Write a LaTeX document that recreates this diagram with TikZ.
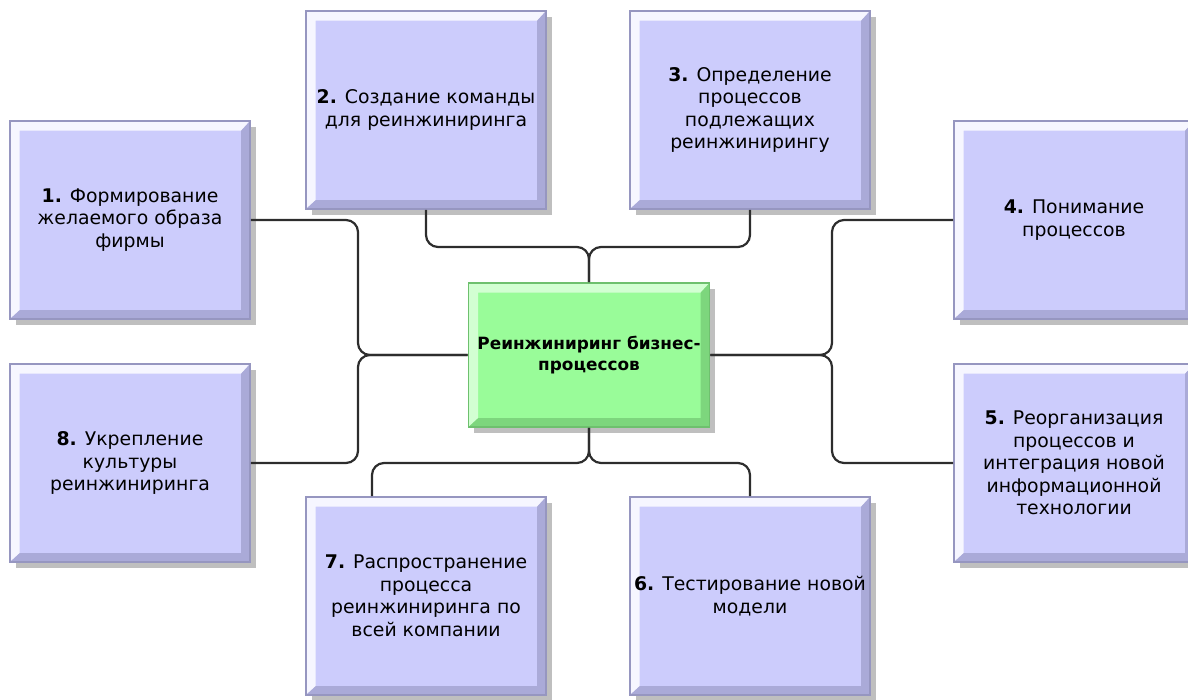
\documentclass[tikz,border=0pt]{standalone}
\usepackage{fontspec}
\setmainfont{DejaVu Sans}
\usetikzlibrary{shadows}

\definecolor{stepfill}{RGB}{204,204,252}
\definecolor{steplight}{RGB}{246,246,255}
\definecolor{stepdark}{RGB}{170,170,216}
\definecolor{stepline}{RGB}{150,150,192}
\definecolor{mainfill}{RGB}{153,252,153}
\definecolor{mainlight}{RGB}{210,255,210}
\definecolor{maindark}{RGB}{125,214,125}
\definecolor{mainline}{RGB}{110,192,110}
\definecolor{linkcol}{RGB}{45,45,45}

\tikzset{
    bevel/.style 2 args={path picture={
        \fill[#1] (path picture bounding box.south west) -- (path picture bounding box.north west)
            -- (path picture bounding box.north east) -- ([shift={(-2.2mm,-2.4mm)}]path picture bounding box.north east)
            -- ([shift={(2.4mm,-2.4mm)}]path picture bounding box.north west) -- ([shift={(2.4mm,2.2mm)}]path picture bounding box.south west) -- cycle;
        \fill[#2] (path picture bounding box.south west) -- (path picture bounding box.south east)
            -- (path picture bounding box.north east) -- ([shift={(-2.2mm,-2.4mm)}]path picture bounding box.north east)
            -- ([shift={(-2.2mm,2.2mm)}]path picture bounding box.south east) -- ([shift={(2.4mm,2.2mm)}]path picture bounding box.south west) -- cycle;
    }},
    stepbox/.style={rectangle, draw=stepline, line width=0.45mm, fill=stepfill, bevel={steplight}{stepdark},
        minimum width=60mm, minimum height=49.5mm, inner sep=0pt, align=center,
        font=\fontsize{13.4}{16}\selectfont,
        drop shadow={shadow xshift=1.4mm, shadow yshift=-1.4mm, opacity=0.25, fill=black}},
    mainbox/.style={rectangle, draw=mainline, line width=0.45mm, fill=mainfill, bevel={mainlight}{maindark},
        minimum width=60.25mm, minimum height=36mm, inner sep=0pt, align=center,
        font=\fontsize{12}{15.5}\selectfont\bfseries,
        drop shadow={shadow xshift=1.4mm, shadow yshift=-1.4mm, opacity=0.25, fill=black}},
    link/.style={draw=linkcol, line width=0.55mm, rounded corners=3mm},
}

\begin{document}
\begin{tikzpicture}[x=0.25mm, y=-0.25mm]
    \useasboundingbox (0, 0) rectangle (1188, 700);

    % Centre
    \node[mainbox] (Centre) at (589, 355) {Реинжиниринг бизнес-\\процессов};

    % Steps round the centre
    \node[stepbox] (Step-1) at (130, 220) {\textbf{1.} Формирование\\желаемого образа\\фирмы};
    \node[stepbox] (Step-2) at (426, 110) {\textbf{2.} Создание команды\\для реинжиниринга};
    \node[stepbox] (Step-3) at (750, 110) {\textbf{3.} Определение\\процессов\\подлежащих\\реинжинирингу};
    \node[stepbox] (Step-4) at (1074, 220) {\textbf{4.} Понимание\\процессов};
    \node[stepbox] (Step-5) at (1074, 463) {\textbf{5.} Реорганизация\\процессов и\\интеграция новой\\информационной\\технологии};
    \node[stepbox] (Step-6) at (750, 596) {\textbf{6.} Тестирование новой\\модели};
    \node[stepbox] (Step-7) at (426, 596) {\textbf{7.} Распространение\\процесса\\реинжиниринга по\\всей компании};
    \node[stepbox] (Step-8) at (130, 463) {\textbf{8.} Укрепление\\культуры\\реинжиниринга};

    % Junctions
    \coordinate (Join-L) at (358, 355);
    \coordinate (Join-R) at (832, 355);
    \coordinate (Join-T) at (589, 247);
    \coordinate (Join-B) at (589, 463);
    \coordinate (Step-7-top) at ([xshift=-13.5mm]Step-7.north);

    % Connect steps to the centre
    \draw[link] (Step-1.east) -| (Join-L) -- (Centre.west);
    \draw[link] (Step-8.east) -| (Join-L) -- (Centre.west);
    \draw[link] (Step-4.west) -| (Join-R) -- (Centre.east);
    \draw[link] (Step-5.west) -| (Join-R) -- (Centre.east);
    \draw[link] (Step-2.south) |- (Join-T) -- (Centre.north);
    \draw[link] (Step-3.south) |- (Join-T) -- (Centre.north);
    \draw[link] (Step-7-top) |- (Join-B) -- (Centre.south);
    \draw[link] (Step-6.north) |- (Join-B) -- (Centre.south);
\end{tikzpicture}
\end{document}
